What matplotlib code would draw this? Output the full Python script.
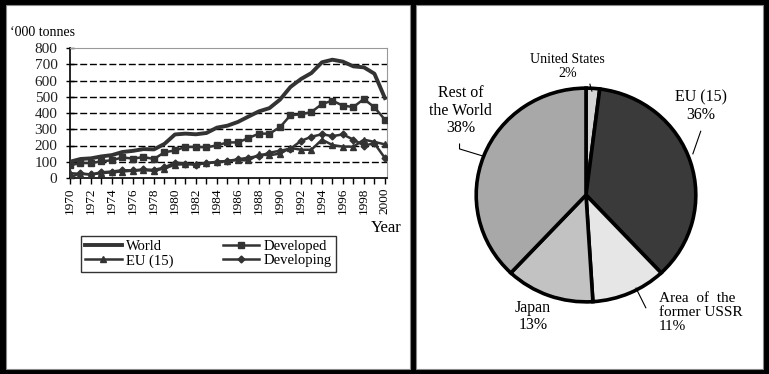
import matplotlib.pyplot as plt
from matplotlib.patches import Rectangle

years = list(range(1970, 2001))
world = [100, 117, 121, 133, 141, 160, 167, 178, 176, 210, 268, 273, 269, 277, 310,
         322, 345, 378, 410, 430, 482, 560, 609, 646, 712, 728, 716, 687, 681, 642, 492]
developed = [78, 92, 92, 103, 109, 127, 119, 129, 117, 158, 170, 191, 191, 189, 201,
             219, 219, 246, 273, 273, 312, 386, 392, 406, 455, 476, 445, 437, 486, 435, 359]
eu15 = [30, 25, 22, 30, 35, 40, 45, 48, 45, 58, 82, 85, 85, 90, 98,
        105, 110, 108, 145, 140, 150, 185, 174, 174, 236, 203, 193, 193, 236, 222, 207]
developing = [5, 28, 22, 35, 40, 48, 47, 53, 50, 65, 95, 88, 82, 92, 100,
              105, 115, 125, 135, 155, 168, 180, 228, 254, 269, 258, 268, 236, 200, 213, 123]

pie_labels = ["United States\n2%", "EU (15)\n36%", "Area  of  the\nformer USSR\n11%",
              "Japan\n13%", "Rest of\nthe World\n38%"]
pie_shares = [2, 36, 11, 13, 38]
pie_colors = ["#d4d4d4", "#3a3a3a", "#e6e6e6", "#c2c2c2", "#a8a8a8"]

W, H = 769, 374
serif = "Liberation Serif"
fig = plt.figure(figsize=(W / 100, H / 100), dpi=100, facecolor="black")


def box(x0, y0, x1, y1):
    # pixel box -> figure fraction [left, bottom, width, height]
    return [x0 / W, (H - y1) / H, (x1 - x0) / W, (y1 - y0) / H]


# white panels
for (x0, x1) in [(6, 410), (416, 763)]:
    l, b, w, h = box(x0, 5, x1, 369)
    fig.patches.append(Rectangle((l, b), w, h, transform=fig.transFigure,
                                 facecolor="white", edgecolor="#888888", lw=0.8, zorder=-5))

# ---- line chart ----
ax = fig.add_axes(box(70, 48, 387, 178))
ax.set_facecolor("none")
ax.plot(years, world, color="#333333", lw=2.8, label="World", zorder=5)
ax.plot(years, developed, color="#333333", lw=1.8, marker="s", ms=4, label="Developed", zorder=4)
ax.plot(years, eu15, color="#333333", lw=1.8, marker="^", ms=4.5, label="EU (15)", zorder=3)
ax.plot(years, developing, color="#333333", lw=1.8, marker="D", ms=3.5, label="Developing", zorder=3)

ax.set_xlim(1970, 2000.2)
ax.set_ylim(0, 800)
ax.set_yticks(range(0, 801, 100))
ax.set_xticks(range(1970, 2001, 2))
ax.set_xticks(range(1970, 2001), minor=True)
ax.set_xticklabels([str(y) for y in range(1970, 2001, 2)], rotation=90,
                   fontfamily=serif, fontsize=9.5)
for t in ax.get_yticklabels():
    t.set_fontfamily(serif)
    t.set_fontsize(11)
    t.set_color("#222222")
ax.tick_params(axis="y", direction="inout", length=6, width=1, pad=6)
ax.tick_params(axis="x", which="both", direction="out", length=4, width=1, pad=3)
for y in range(100, 800, 100):
    ax.axhline(y, color="black", lw=1, ls=(0, (5, 2)), zorder=1)
ax.spines["left"].set_linewidth(1.2)
ax.spines["bottom"].set_linewidth(1.2)
ax.spines["top"].set_color("#999999")
ax.spines["right"].set_color("#999999")

fig.text(10 / W, 1 - 33 / H, "\u2018000 tonnes", fontfamily=serif, fontsize=10, va="center")
fig.text(371 / W, 1 - 228 / H, "Year", fontfamily=serif, fontsize=12, va="center")

# World / EU (15) in first column, Developed / Developing second
h, lab = ax.get_legend_handles_labels()
order = [0, 2, 1, 3]
leg = fig.legend([h[i] for i in order], [lab[i] for i in order], ncol=2, loc="center",
                 bbox_to_anchor=((80 + 337) / 2 / W, 1 - 254 / H),
                 prop={"family": serif, "size": 10.5}, frameon=True, fancybox=False,
                 edgecolor="black", handlelength=2.5, handletextpad=0.3,
                 columnspacing=3.4, labelspacing=0.05, borderpad=0.3)
leg.get_frame().set_linewidth(1)

# ---- pie chart ----
cx, cy, rx, ry = 586, 195, 112, 109
pax = fig.add_axes(box(cx - rx, cy - ry, cx + rx, cy + ry))
pax.pie(pie_shares, colors=pie_colors, startangle=90, counterclock=False,
        wedgeprops={"edgecolor": "black", "linewidth": 2.6})
pax.set_aspect("auto")
pax.set_xlim(-1.02, 1.02)
pax.set_ylim(-1.02, 1.02)


def px(x, y):
    return ((x - cx) / rx, (cy - y) / ry)


label_pos = [((567, 64), "center"), ((703, 104), "center"), ((660, 315), "left"),
             ((532, 319), "center"), ((458, 109), "center")]
label_size = [10, 11.5, 11, 11.5, 11.5]
for lab, ((x, y), ha), fs in zip(pie_labels, label_pos, label_size):
    tx, ty = px(x, y)
    pax.text(tx, ty, lab, ha=ha, va="center", multialignment=ha,
             fontfamily=serif, fontsize=fs, linespacing=1.12, clip_on=False)

leaders = [[(590, 82), (592, 89)], [(703, 130), (695, 153)],
           [(457, 143), (457, 148), (480, 155)], [(637, 290), (647, 310)]]
for pts in leaders:
    xs, ys = zip(*[px(x, y) for x, y in pts])
    pax.plot(xs, ys, color="black", lw=0.8, clip_on=False)

fig.savefig("out.png", dpi=100, facecolor="black")
